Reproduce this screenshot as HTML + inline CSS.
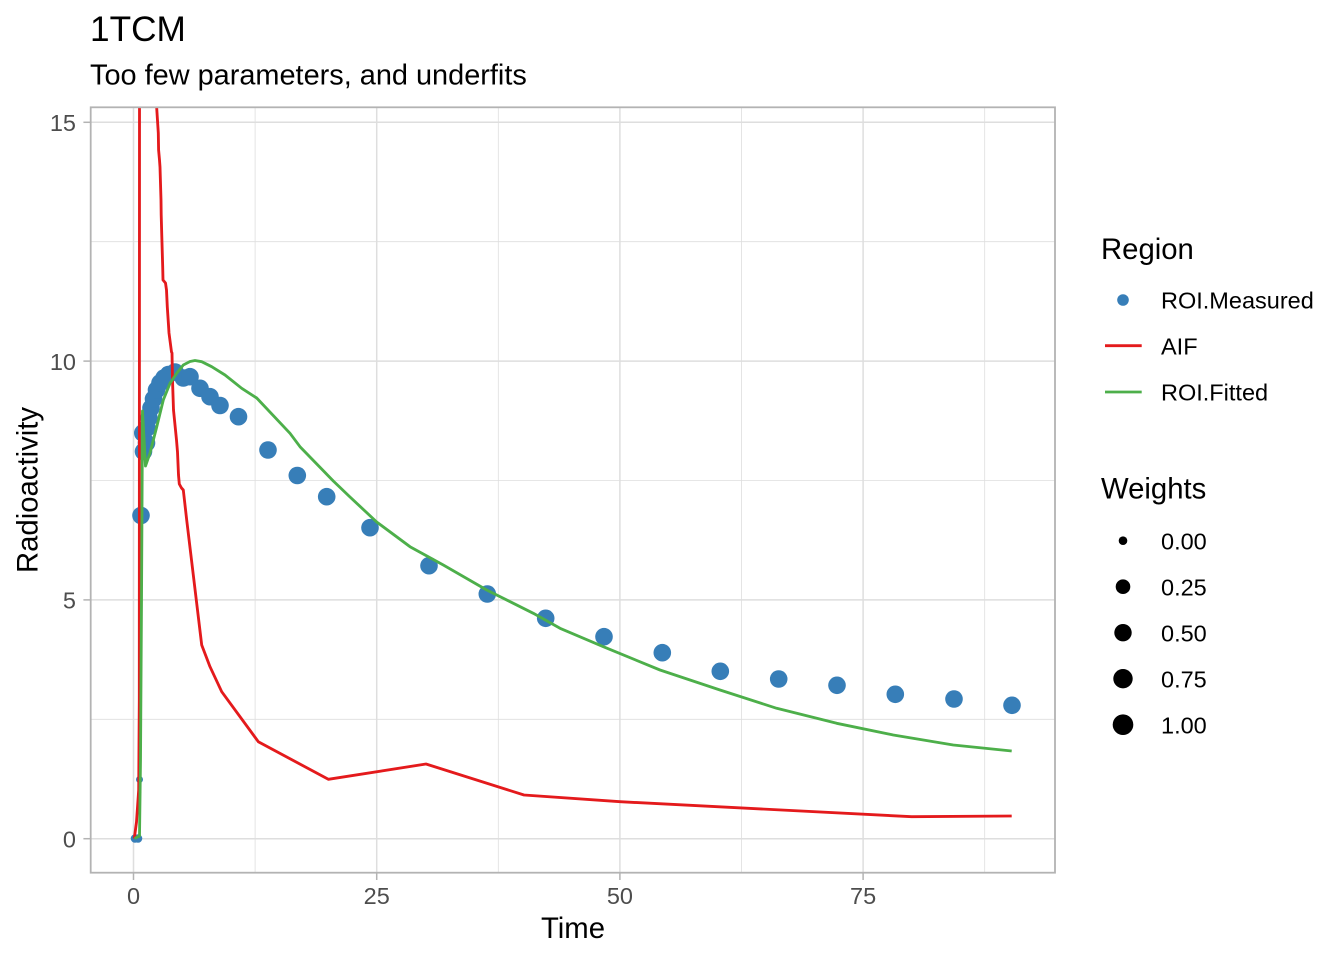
<!DOCTYPE html>
<html>
<head>
<meta charset="utf-8">
<style>
html,body{margin:0;padding:0;background:#fff;}
svg{display:block;}
text{font-family:"Liberation Sans",Arial,sans-serif;}
</style>
</head>
<body>
<svg width="1344" height="960" viewBox="0 0 1344 960" xmlns="http://www.w3.org/2000/svg">
<rect x="0" y="0" width="1344" height="960" fill="#fff"/>
<defs>
<clipPath id="pc"><rect x="90.7" y="107.3" width="964.3" height="765.4"/></clipPath>
</defs>

<!-- title -->
<text x="90" y="41" font-size="35.2" fill="#000">1TCM</text>
<text x="90" y="84.3" font-size="28.9" fill="#000">Too few parameters, and underfits</text>

<!-- minor grid -->
<g stroke="#dedede" stroke-width="0.8" fill="none">
<line x1="90.7" x2="1055" y1="719.3" y2="719.3"/>
<line x1="90.7" x2="1055" y1="480.5" y2="480.5"/>
<line x1="90.7" x2="1055" y1="241.7" y2="241.7"/>
<line y1="107.3" y2="872.7" x1="255.1" x2="255.1"/>
<line y1="107.3" y2="872.7" x1="498.3" x2="498.3"/>
<line y1="107.3" y2="872.7" x1="741.5" x2="741.5"/>
<line y1="107.3" y2="872.7" x1="984.7" x2="984.7"/>
</g>
<!-- major grid -->
<g stroke="#dedede" stroke-width="1.5" fill="none">
<line x1="90.7" x2="1055" y1="838.7" y2="838.7"/>
<line x1="90.7" x2="1055" y1="599.9" y2="599.9"/>
<line x1="90.7" x2="1055" y1="361.1" y2="361.1"/>
<line x1="90.7" x2="1055" y1="122.3" y2="122.3"/>
<line y1="107.3" y2="872.7" x1="133.5" x2="133.5"/>
<line y1="107.3" y2="872.7" x1="376.7" x2="376.7"/>
<line y1="107.3" y2="872.7" x1="619.9" x2="619.9"/>
<line y1="107.3" y2="872.7" x1="863.1" x2="863.1"/>
</g>

<g clip-path="url(#pc)">
<!-- points -->
<g fill="#377EB8">
<circle cx="135" cy="838.5" r="4.3"/>
<circle cx="138" cy="838.5" r="4.3"/>
<circle cx="139.5" cy="779.5" r="3.5"/>
<circle cx="141" cy="515.5" r="8.8"/>
<circle cx="142.8" cy="433" r="8.8"/>
<circle cx="143.5" cy="451.5" r="8.8"/>
<circle cx="146.5" cy="443" r="8.8"/>
<circle cx="147" cy="428" r="8.8"/>
<circle cx="149" cy="418" r="8.8"/>
<circle cx="151" cy="408" r="8.8"/>
<circle cx="153.5" cy="399" r="8.8"/>
<circle cx="156.5" cy="390" r="8.8"/>
<circle cx="160" cy="383" r="8.8"/>
<circle cx="164" cy="378" r="8.8"/>
<circle cx="168.5" cy="374.5" r="8.8"/>
<circle cx="175" cy="372" r="8.8"/>
<circle cx="183.3" cy="378" r="8.8"/>
<circle cx="190" cy="376.7" r="8.8"/>
<circle cx="200" cy="388.3" r="8.8"/>
<circle cx="210" cy="396.7" r="8.8"/>
<circle cx="220" cy="405.5" r="8.8"/>
<circle cx="238.5" cy="416.7" r="8.8"/>
<circle cx="268" cy="450" r="8.8"/>
<circle cx="297.3" cy="475.5" r="8.8"/>
<circle cx="326.7" cy="496.7" r="8.8"/>
<circle cx="370" cy="527.7" r="8.8"/>
<circle cx="429" cy="565.7" r="8.8"/>
<circle cx="487.3" cy="594" r="8.8"/>
<circle cx="545.7" cy="618.3" r="8.8"/>
<circle cx="604" cy="636.7" r="8.8"/>
<circle cx="662.3" cy="652.7" r="8.8"/>
<circle cx="720.3" cy="671.3" r="8.8"/>
<circle cx="778.7" cy="679" r="8.8"/>
<circle cx="837" cy="685.3" r="8.8"/>
<circle cx="895.3" cy="694.3" r="8.8"/>
<circle cx="954" cy="699" r="8.8"/>
<circle cx="1012" cy="705.3" r="8.8"/>
</g>

<!-- AIF -->
<polyline fill="none" stroke="#E41A1C" stroke-width="2.84" stroke-linejoin="round" points="
134.3,838.5 136.5,822 138.7,790 139.3,700 139.5,107 139.6,-50 156.5,-50 156.7,108 158.3,133 158.6,150 159.5,160 160,167 161,200 161.2,215 161.7,233 162.7,267 163,280 165.5,283 166.5,290 167.3,307 168.5,325 169,333 171.5,352 172,353 172.5,380 173.5,410 174.5,420 176.5,440 177.5,452 178.5,475 179.3,484 181.5,488 183.3,490 186.7,520 201.7,645 210,666.7 221.7,691.7 258.3,741.7 328.3,779.3 426,764 524,795 620,801.7 911.7,816.7 1011.7,816"/>

<!-- ROI.Fitted -->
<polyline fill="none" stroke="#4DAF4A" stroke-width="2.84" stroke-linejoin="round" points="
134.5,838.5 139.5,836 140.5,760 141.5,600 142.5,411 145.5,466 150,453 156.7,427 163.3,400 170,383.3 176.7,373.3 183.3,365 190,361.5 195,360.5 201.7,361.7 211.7,366.7 225,375 241.7,388.3 256.7,398 290,433.3 300,446.7 333.3,481 350,497 376.7,522 410,546.7 443.3,565 486.7,590 533.3,613.3 560,628.3 603.3,646.7 660,670 720,690 776.7,708.3 836.7,723.3 893.3,735 953.3,745 1011.7,751"/>
</g>

<!-- panel border -->
<rect x="90.7" y="107.3" width="964.3" height="765.4" fill="none" stroke="#b3b3b3" stroke-width="1.8"/>

<!-- ticks -->
<g stroke="#b3b3b3" stroke-width="1.5">
<line x1="83.4" x2="90.7" y1="838.7" y2="838.7"/>
<line x1="83.4" x2="90.7" y1="599.9" y2="599.9"/>
<line x1="83.4" x2="90.7" y1="361.1" y2="361.1"/>
<line x1="83.4" x2="90.7" y1="122.3" y2="122.3"/>
<line y1="872.7" y2="880" x1="133.5" x2="133.5"/>
<line y1="872.7" y2="880" x1="376.7" x2="376.7"/>
<line y1="872.7" y2="880" x1="619.9" x2="619.9"/>
<line y1="872.7" y2="880" x1="863.1" x2="863.1"/>
</g>

<!-- tick labels -->
<g font-size="23.5" fill="#4d4d4d">
<text x="76" y="847.4" text-anchor="end">0</text>
<text x="76" y="608.6" text-anchor="end">5</text>
<text x="76" y="369.8" text-anchor="end">10</text>
<text x="76" y="131" text-anchor="end">15</text>
<text x="133.5" y="904" text-anchor="middle">0</text>
<text x="376.7" y="904" text-anchor="middle">25</text>
<text x="619.9" y="904" text-anchor="middle">50</text>
<text x="863.1" y="904" text-anchor="middle">75</text>
</g>

<!-- axis titles -->
<text x="573" y="938" font-size="29.3" text-anchor="middle" fill="#000">Time</text>
<text transform="translate(37.5,490) rotate(-90)" font-size="29.3" text-anchor="middle" fill="#000">Radioactivity</text>

<!-- legend: Region -->
<text x="1101" y="259" font-size="29.3" fill="#000">Region</text>
<circle cx="1123" cy="300" r="5.8" fill="#377EB8"/>
<line x1="1105" x2="1141.7" y1="345.7" y2="345.7" stroke="#E41A1C" stroke-width="2.84"/>
<line x1="1105" x2="1141.7" y1="392" y2="392" stroke="#4DAF4A" stroke-width="2.84"/>
<g font-size="23.5" fill="#000">
<text x="1161" y="308.3">ROI.Measured</text>
<text x="1161" y="354.3">AIF</text>
<text x="1161" y="400.3">ROI.Fitted</text>
</g>

<!-- legend: Weights -->
<text x="1101" y="498.3" font-size="29.3" fill="#000">Weights</text>
<g fill="#000">
<circle cx="1123" cy="540.7" r="4.3"/>
<circle cx="1123" cy="586.7" r="7.3"/>
<circle cx="1123" cy="632.7" r="8.7"/>
<circle cx="1123" cy="678.7" r="9.7"/>
<circle cx="1123" cy="724.7" r="10.3"/>
</g>
<g font-size="23.5" fill="#000">
<text x="1161" y="549.3">0.00</text>
<text x="1161" y="595.3">0.25</text>
<text x="1161" y="641.3">0.50</text>
<text x="1161" y="687.3">0.75</text>
<text x="1161" y="733.3">1.00</text>
</g>
</svg>
</body>
</html>
